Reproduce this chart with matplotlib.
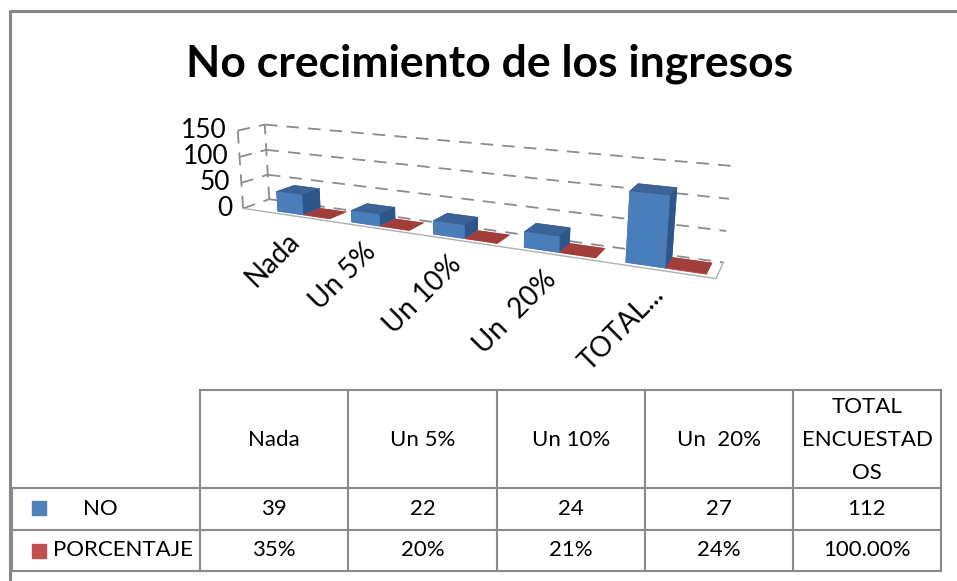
import numpy as np
import matplotlib.pyplot as plt
from matplotlib.transforms import IdentityTransform
from mpl_toolkits.mplot3d import proj3d

# datos
etiquetas_eje = ['Nada', 'Un 5%', 'Un 10%', 'Un  20%', 'TOTAL...']
encabezados = ['Nada', 'Un 5%', 'Un 10%', 'Un  20%', 'TOTAL\nENCUESTAD\nOS']
series = ['NO', 'PORCENTAJE']
no_vals = [39, 22, 24, 27, 112]
porc_vals = [0.35, 0.20, 0.21, 0.24, 1.00]
no_txt = ['39', '22', '24', '27', '112']
porc_txt = ['35%', '20%', '21%', '24%', '100.00%']
z_ticks = [0, 50, 100, 150]

plt.rcParams['font.family'] = ['Lato', 'DejaVu Sans']

azul = '#4F81BD'
rojo = '#C0504D'
gris = '#8C8C8C'

fig = plt.figure(figsize=(9.57, 5.81), dpi=100)

# capa de fondo en pixeles: borde, titulo, tabla
bg = fig.add_axes([0, 0, 1, 1])
bg.set_xlim(0, 957)
bg.set_ylim(581, 0)
bg.axis('off')
bg.plot([10, 10, 957], [581, 11, 11], color='#878787', lw=2.2)
bg.text(490, 64, 'No crecimiento de los ingresos', ha='center', va='center',
        fontsize=32, fontweight='bold')

# tabla de datos
cx = [200, 348, 497, 645, 793, 941]
ry = [390, 488, 530, 571]
lc = '#8A8A8A'
bg.plot([cx[0], cx[-1]], [ry[0], ry[0]], color=lc, lw=1.5)
for yy in ry[1:]:
    bg.plot([12, cx[-1]], [yy, yy], color=lc, lw=1.5)
for xx in cx:
    bg.plot([xx, xx], [ry[0], ry[-1]], color=lc, lw=1.5)
bg.plot([12, 12], [ry[1], ry[-1]], color=lc, lw=1.5)
for i in range(5):
    xm = (cx[i] + cx[i + 1]) / 2
    bg.text(xm, (ry[0] + ry[1]) / 2 + 1, encabezados[i], ha='center', va='center',
            fontsize=16, linespacing=1.8)
    bg.text(xm, (ry[1] + ry[2]) / 2, no_txt[i], ha='center', va='center', fontsize=16)
    bg.text(xm, (ry[2] + ry[3]) / 2 - 1, porc_txt[i], ha='center', va='center', fontsize=16)
bg.add_patch(plt.Rectangle((32, 501), 14, 14, color=azul))
bg.add_patch(plt.Rectangle((32, 544), 14, 14, color=rojo))
bg.text(100, (ry[1] + ry[2]) / 2, series[0], ha='center', va='center', fontsize=16)
bg.text(53, (ry[2] + ry[3]) / 2 - 1, series[1], ha='left', va='center', fontsize=16)

# grafico 3D (caja cuadrada centrada en el area del grafico)
S = 600
cxp, cyp = 448, 198
ax = fig.add_axes([(cxp - S / 2) / 957, (581 - cyp - S / 2) / 581, S / 957, S / 581],
                  projection='3d')
ax.patch.set_alpha(0)
ax.set_proj_type('persp', focal_length=0.24)
ax.view_init(elev=14, azim=-64)
ax.set_box_aspect((4.5, 0.4, 0.78), zoom=0.845)
xmin, xmax = -0.8, 4.45
ax.set_xlim(xmin, xmax)
ax.set_ylim(0, 1)
ax.set_zlim(0, 150)
ax.set_axis_off()
ax.computed_zorder = False

dash = dict(color=gris, lw=1.3, linestyle=(0, (7, 5)), zorder=1)
for z in z_ticks:
    ax.plot([xmin, xmax], [1, 1], [z, z], **dash)
    ax.plot([xmin, xmin], [0, 1], [z, z], **dash)
ax.plot([xmin, xmin], [0, 0], [0, 150], **dash)
ax.plot([xmin, xmin], [1, 1], [0, 150], **dash)
ax.plot([xmin, xmax, xmax], [0, 0, 1], [0, 0, 0], color='#B0B0B0', lw=1.0, zorder=1)

x = np.arange(5)
w = 0.36
d = 0.7
y0 = 0.15
xs = np.concatenate([x - w, x])
hs = np.concatenate([no_vals, porc_vals])
caras_azul = ['#4F81BD', '#3B6398', '#4A7EBB', '#385D8A', '#385D8A', '#2E5689']
caras_rojo = ['#C0504D', '#A13E3B', '#C0504D', '#953735', '#953735', '#8C3836']
colores = caras_azul * 5 + caras_rojo * 5
barras = ax.bar3d(xs, np.full(10, y0), np.zeros(10), w, d, hs, color=colores, shade=False)
barras.set_zorder(3)

fig.canvas.draw()


def a_pixel(px, py, pz):
    x2, y2, _ = proj3d.proj_transform(px, py, pz, ax.M)
    return ax.transData.transform((x2, y2))


for z in z_ticks:
    p = a_pixel(xmin, 0, z)
    fig.text(p[0] - 11, p[1], str(z), ha='right', va='center', fontsize=19,
             transform=IdentityTransform())
for i, lab in enumerate(etiquetas_eje):
    p = a_pixel(i, 0, 0)
    fig.text(p[0] - 4, p[1] - 20, lab, ha='right', va='center', fontsize=20,
             rotation=45, rotation_mode='anchor', transform=IdentityTransform())

fig.savefig('out.png', dpi=100)
